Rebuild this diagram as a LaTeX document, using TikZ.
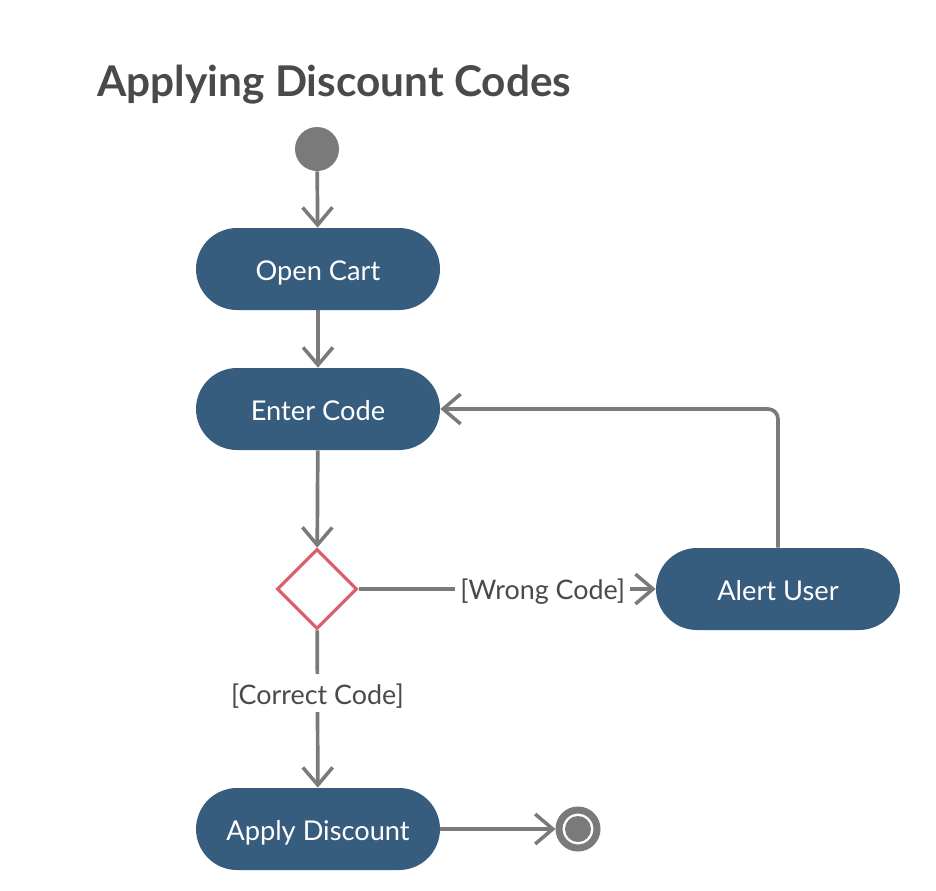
\documentclass[tikz,border=0pt]{standalone}
\usepackage{fontspec}
\setmainfont{Lato}
\usepackage{xcolor}
\usepackage{tikz}
\usetikzlibrary{arrows.meta, calc, positioning, shapes.geometric}

\definecolor{actfill}{HTML}{365C7E}
\definecolor{flowgray}{HTML}{7A7A7A}
\definecolor{decred}{HTML}{D8616E}
\definecolor{titlegray}{HTML}{4A4A4A}

\begin{document}
\begin{tikzpicture}[x=0.02cm,y=-0.02cm,
    >={Straight Barb[length=10pt,width=17pt,line width=2pt]},
    action/.style={draw=none,fill=actfill,text=white,rounded corners=0.82cm,
      minimum width=4.88cm,minimum height=1.64cm,text height=13pt,text depth=0pt,
      font=\fontsize{15.5}{18}\selectfont},
    flow/.style={draw=flowgray,line width=2.1pt},
    guard/.style={fill=white,text=titlegray,inner sep=3pt,text height=14pt,text depth=1.5pt,
      font=\fontsize{15.3}{18}\selectfont}]
  \useasboundingbox (0,0) rectangle (936,890);
  % title
  \node[anchor=base west,inner sep=0pt,text=titlegray,font=\fontsize{24.1}{28}\selectfont\bfseries] (title) at (97,96) {Applying Discount Codes};
  % start
  \node[circle,fill=flowgray,minimum size=0.88cm,inner sep=0pt] (start) at (317,149) {};
  % actions
  \node[action] (cart) at (318,269) {Open Cart};
  \node[action] (code) at (318,409) {Enter Code};
  \node[action] (alert) at (778,589) {Alert User};
  \node[action] (apply) at (318,829) {Apply Discount};
  % decision
  \node[diamond,draw=decred,line width=1.8pt,fill=white,minimum width=1.6cm,
        minimum height=1.6cm,inner sep=0pt] (dec) at (317,589) {};
  % final
  \node[circle,draw=flowgray,line width=4pt,fill=white,minimum size=0.76cm,inner sep=0pt] (end) at (578,829) {};
  \fill[flowgray] (end.center) circle (0.26cm);
  % flows
  \draw[flow,->] (start) -- (cart);
  \draw[flow,->] (cart) -- (code);
  \draw[flow,->] (code) -- (dec);
  \draw[flow,->] (dec) -- node[guard,pos=0.62]{[Wrong Code]} (alert);
  \draw[flow,->] (dec) -- node[guard,pos=0.4]{[Correct Code]} (apply);
  \draw[flow,->,rounded corners=0.2cm] (alert.north) |- (code.east);
  \draw[flow,->] (apply) -- (end);
\end{tikzpicture}
\end{document}
